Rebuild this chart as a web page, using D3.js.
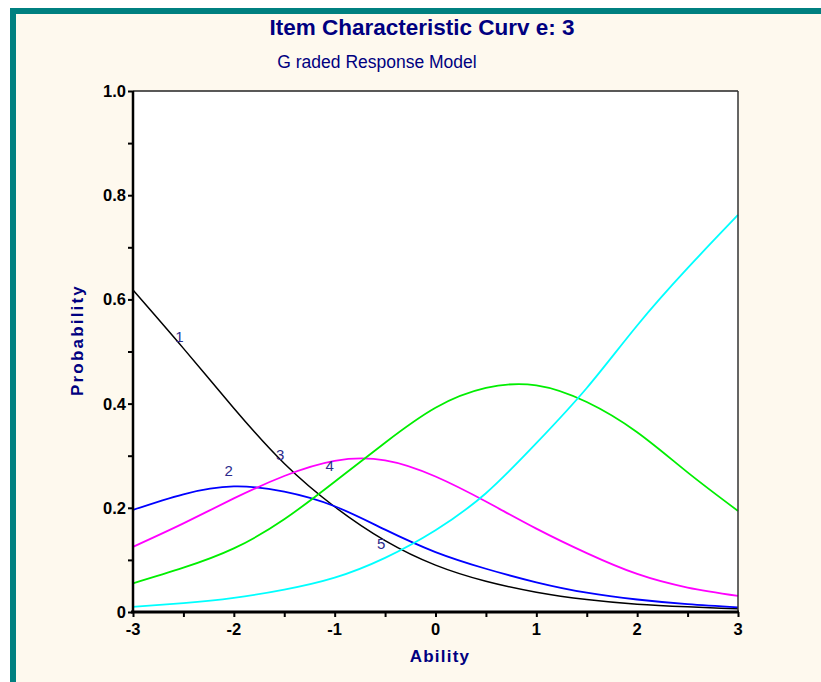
<!DOCTYPE html>
<html lang="en">
<head>
  <meta charset="UTF-8">
  <title>Item Characteristic Curve</title>
  <script src="https://d3js.org/d3.v7.min.js"></script>
  <style type="text/css">
    body {
      margin: 0;
      background: #ffffff;
    }
    svg text {
      font-family: "Liberation Sans", Arial, sans-serif;
    }
  </style>
</head>
<body>
  <svg id="chart" width="821" height="682"></svg>

<script>
  const ability = [-3, -2.5, -2, -1.5, -1, -0.5, 0, 0.5, 1, 1.5, 2, 2.5, 3]

  // one probability series per response category
  const cat1 = [0.618, 0.506, 0.391, 0.285, 0.202, 0.137, 0.090, 0.059, 0.038, 0.024, 0.015, 0.010, 0.006]
  const cat2 = [0.196, 0.226, 0.241, 0.231, 0.203, 0.158, 0.115, 0.083, 0.057, 0.037, 0.024, 0.015, 0.009]
  const cat3 = [0.125, 0.170, 0.218, 0.261, 0.290, 0.291, 0.260, 0.212, 0.160, 0.113, 0.073, 0.047, 0.031]
  const cat4 = [0.055, 0.085, 0.122, 0.178, 0.250, 0.325, 0.392, 0.430, 0.435, 0.403, 0.345, 0.268, 0.194]
  const cat5 = [0.010, 0.017, 0.027, 0.043, 0.066, 0.104, 0.157, 0.228, 0.324, 0.430, 0.550, 0.660, 0.762]

  const seriesNames = ['1', '2', '3', '4', '5']
  const seriesColors = ['#000000', '#0000ff', '#ff00ff', '#00ee00', '#00ffff']

  // where the little category numbers sit (ability, probability at baseline)
  const labelX = [-2.54, -2.05, -1.54, -1.05, -0.54]
  const labelY = [0.518, 0.261, 0.292, 0.271, 0.120]

  const xTicks = [-3, -2, -1, 0, 1, 2, 3]
  const yTicks = [0, 0.2, 0.4, 0.6, 0.8, 1.0]
  const yTickLabels = ['0', '0.2', '0.4', '0.6', '0.8', '1.0']

  const svg = d3.select('#chart')

  // frame of the window
  svg.append('rect').attr('x', 10).attr('y', 8)
    .attr('width', 830).attr('height', 700)
    .attr('fill', '#008080')
  svg.append('rect').attr('x', 16).attr('y', 14)
    .attr('width', 830).attr('height', 700)
    .attr('fill', '#fef9ee')

  const pLeft = 133, pRight = 738, pTop = 91, pBottom = 612

  const x = d3.scaleLinear().domain([-3, 3]).range([pLeft, pRight])
  const y = d3.scaleLinear().domain([0, 1]).range([pBottom, pTop])

  svg.append('rect')
    .attr('x', pLeft).attr('y', pTop)
    .attr('width', pRight - pLeft).attr('height', pBottom - pTop)
    .attr('fill', '#ffffff')

  // curves
  const allSeries = [cat1, cat2, cat3, cat4, cat5]
  const line = d3.line()
    .x((d, i) => x(ability[i]))
    .y(d => y(d))
    .curve(d3.curveNatural)

  const plot = svg.append('g')
  allSeries.forEach((s, k) => {
    plot.append('path')
      .attr('d', line(s))
      .attr('fill', 'none')
      .attr('stroke', seriesColors[k])
      .attr('stroke-width', k === 0 ? 1.5 : 1.8)
  })

  // category numbers
  seriesNames.forEach((n, k) => {
    svg.append('text')
      .attr('x', x(labelX[k]))
      .attr('y', y(labelY[k]))
      .attr('text-anchor', 'middle')
      .attr('font-size', 15)
      .attr('fill', '#2b2b8c')
      .text(n)
  })

  // top and right border
  svg.append('line').attr('x1', pLeft).attr('x2', pRight).attr('y1', pTop).attr('y2', pTop)
    .attr('stroke', '#222').attr('stroke-width', 1.5)
  svg.append('line').attr('x1', pRight).attr('x2', pRight).attr('y1', pTop).attr('y2', pBottom)
    .attr('stroke', '#333').attr('stroke-width', 1.5)

  // y axis
  const yAxis = svg.append('g')
    .attr('transform', `translate(${pLeft},0)`)
    .call(d3.axisLeft(y).tickValues(d3.range(0, 1.01, 0.1)).tickSize(5).tickFormat(''))
  yAxis.select('.domain').attr('stroke-width', 2.5).attr('d', `M0,${pTop}V${pBottom}`)
  yAxis.selectAll('.tick line').attr('stroke-width', 2)

  yTicks.forEach((t, i) => {
    svg.append('text')
      .attr('x', pLeft - 7)
      .attr('y', y(t) + 6)
      .attr('text-anchor', 'end')
      .attr('font-size', 16.5)
      .attr('font-weight', 'bold')
      .attr('fill', '#000')
      .text(yTickLabels[i])
  })

  // x axis
  const xAxis = svg.append('g')
    .attr('transform', `translate(0,${pBottom})`)
    .call(d3.axisBottom(x).tickValues(d3.range(-3, 3.01, 0.5)).tickSize(5).tickFormat(''))
  xAxis.select('.domain').attr('stroke-width', 3).attr('d', `M${pLeft - 2},0H${pRight + 1}`)
  xAxis.selectAll('.tick line').attr('stroke-width', 2)

  xTicks.forEach(t => {
    svg.append('text')
      .attr('x', x(t))
      .attr('y', pBottom + 23)
      .attr('text-anchor', 'middle')
      .attr('font-size', 16.5)
      .attr('font-weight', 'bold')
      .attr('fill', '#000')
      .text(String(t))
  })

  // titles
  svg.append('text')
    .attr('x', 422).attr('y', 35)
    .attr('text-anchor', 'middle')
    .attr('font-size', 22.5)
    .attr('font-weight', 'bold')
    .attr('fill', '#000080')
    .text('Item Characteristic Curv e: 3')

  svg.append('text')
    .attr('x', 377).attr('y', 68)
    .attr('text-anchor', 'middle')
    .attr('font-size', 17.5)
    .attr('fill', '#000080')
    .text('G raded Response Model')

  svg.append('text')
    .attr('x', 440).attr('y', 662)
    .attr('text-anchor', 'middle')
    .attr('font-size', 17)
    .attr('font-weight', 'bold')
    .attr('letter-spacing', 1.2)
    .attr('fill', '#000080')
    .text('Ability')

  svg.append('text')
    .attr('transform', 'translate(83,340) rotate(-90)')
    .attr('text-anchor', 'middle')
    .attr('font-size', 17)
    .attr('font-weight', 'bold')
    .attr('letter-spacing', 2.2)
    .attr('fill', '#000080')
    .text('Probability')
</script>
</body>
</html>
